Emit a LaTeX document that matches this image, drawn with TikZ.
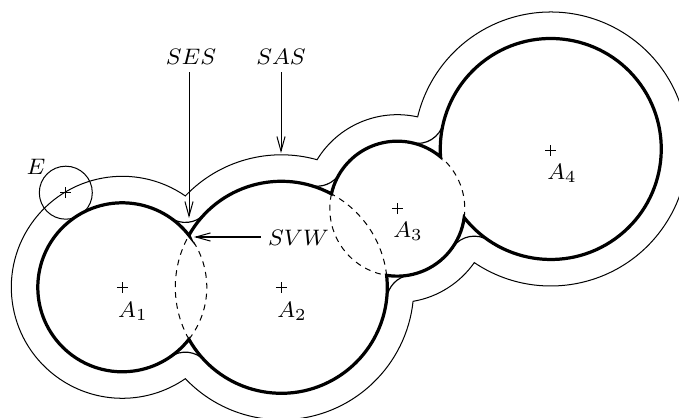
\documentclass[tikz,border=0pt]{standalone}
\usetikzlibrary{arrows.meta}
\tikzset{
  atomline/.style={line width=1.15pt,line join=miter,miter limit=10},
  sasline/.style={line width=0.36pt},
  fillet/.style={line width=0.42pt},
  hidden/.style={line width=0.36pt,dash pattern=on 2.1pt off 1.8pt},
  pointer/.style={line width=0.36pt,-{Straight Barb[length=5.2pt,width=2.9pt,line width=0.36pt]}},
  tag/.style={inner sep=0pt,outer sep=2.7pt,font=\fontsize{8.5}{10}\selectfont},
  mark cross/.style={line width=0.36pt}
}
\newcommand\ringarc[5]{\draw[#1] (#2) ++(#4:#3) arc[start angle=#4,end angle=#5,radius=#3];}
\begin{document}
\begin{tikzpicture}[x=0.357pt,y=0.357pt]
\useasboundingbox (0,0) rectangle (679,417);
\clip (0,0) rectangle (679,417);
\coordinate (A1) at (122.3,129.7);
\coordinate (A2) at (281.3,129.7);
\coordinate (A3) at (397.3,208.3);
\coordinate (A4) at (550.8,268);
\coordinate (A4c) at (550.6,266.6);
\coordinate (E0) at (65.8,224.3);
% solvent accessible surface
\draw[sasline] (A1) ++(55.39:111)
  arc[start angle=55.39,end angle=304.61,radius=111]
  arc[start angle=223.59,end angle=353.92,radius=132.5]
  arc[start angle=279.65,end angle=324.98,radius=94]
  arc[start angle=236.04,end angle=526.46,radius=137]
  arc[start angle=77.52,end angle=148.61,radius=94]
  arc[start angle=74.34,end angle=136.41,radius=132.5]
  -- cycle;
% reentrant arcs
\coordinate (P12t) at (185.34,221.06);
\coordinate (P12b) at (185.34,38.34);
\coordinate (P23t) at (317.07,257.28);
\coordinate (P23b) at (413.06,115.67);
\coordinate (P34t) at (417.6,300.07);
\coordinate (P34b) at (474.3,154.35);
\ringarc{fillet}{P12t}{26.5}{235.39}{316.41}
\ringarc{fillet}{P12b}{26.5}{43.59}{124.61}
\ringarc{fillet}{P23t}{26.5}{254.34}{328.61}
\ringarc{fillet}{P23b}{26.5}{99.65}{173.92}
\ringarc{fillet}{P34t}{26.5}{257.52}{346.46}
\ringarc{fillet}{P34b}{26.5}{56.04}{144.98}
% hidden arcs
\ringarc{hidden}{A1}{84.5}{-37.96}{37.96}
\ringarc{hidden}{A2}{106}{209.37}{150.63}
\ringarc{hidden}{A2}{106}{6.49}{61.77}
\ringarc{hidden}{A3}{67.5}{167.35}{260.91}
\ringarc{hidden}{A3}{67.5}{-7.62}{50.12}
% atoms outline
\draw[atomline] (A1) ++(37.96:84.5)
  arc[start angle=37.96,end angle=322.04,radius=84.5]
  arc[start angle=209.37,end angle=366.49,radius=106]
  arc[start angle=260.91,end angle=352.38,radius=67.5]
  arc[start angle=218.40,end angle=544.10,radius=110.5]
  arc[start angle=50.12,end angle=167.35,radius=67.5]
  arc[start angle=61.77,end angle=150.63,radius=106]
  -- cycle;
% probe
\draw[sasline] (E0) circle[radius=26.5];
% centres
\foreach \c in {A1,A2,A3,A4c,E0}
  \draw[mark cross] (\c) +(-5.5,0) -- +(5.5,0) (\c) +(0,-5.5) -- +(0,5.5);
% labels
\node[tag] (ses) at (191,360) {$SES$};
\node[tag] (sas) at (281,360) {$SAS$};
\node[tag] (svw) at (298.5,179) {$SVW$};
\node[tag] (e) at (36,250) {$E$};
\node[tag] (l1) at (133,106) {$A_1$};
\node[tag] (l2) at (292,106) {$A_2$};
\node[tag] (l3) at (408,186) {$A_3$};
\node[tag] (l4) at (562,244) {$A_4$};
% pointers
\coordinate (sestip) at (189,199);
\coordinate (sastip) at (281,264);
\coordinate (svwtip) at (194,180);
\draw[pointer] (sestip |- ses.south) -- (sestip);
\draw[pointer] (sastip |- sas.south) -- (sastip);
\draw[pointer] (svwtip -| svw.west) -- (svwtip);
\end{tikzpicture}
\end{document}
